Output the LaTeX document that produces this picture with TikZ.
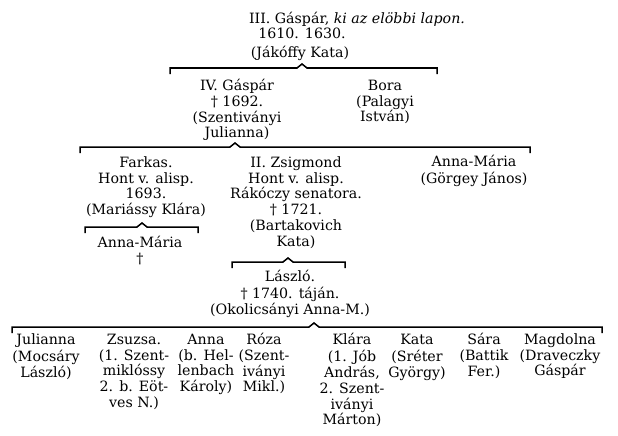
\documentclass[tikz,border=0pt]{standalone}
\usepackage{fontspec}
\setmainfont{DejaVu Serif}
\tikzset{
  gen/.style={font=\fontsize{14.2}{15.8}\selectfont, align=center, inner sep=0pt, anchor=north},
  genline/.style={font=\fontsize{14.2}{15.8}\selectfont, inner sep=0pt, anchor=base},
  bracket/.style={line width=1.5pt, line join=miter, line cap=butt},
}
% family bracket: name, y, left x, peak x, right x
\newcommand{\fambracket}[5]{%
  \coordinate (#1l) at (#3,#2);
  \coordinate (#1p) at (#4,#2);
  \coordinate (#1r) at (#5,#2);
  \draw[bracket] ([yshift=-6pt]#1l) -- (#1l) -- ([xshift=-5pt]#1p) -- ([yshift=4pt]#1p)
     -- ([xshift=5pt]#1p) -- (#1r) -- ([yshift=-6pt]#1r);
}
\begin{document}
\begin{tikzpicture}[x=1pt,y=-1pt]
\useasboundingbox[fill=white] (0,0) rectangle (618,436);

% generation III
\node[genline] (top1) at (357,24) {III. Gáspár, \textit{ki az elöbbi lapon.}};
\node[genline] (top2) at (302,39) {1610. 1630.};
\node[genline] (top3) at (300,57) {(Jákóffy Kata)};
\fambracket{b1}{68}{170}{302}{437}

% generation IV
\node[gen] (gaspar) at (237,79) {\strut IV. Gáspár\\† 1692.\\(Szentiványi\\Julianna)};
\node[gen] (bora) at (385,79) {\strut Bora\\(Palagyi\\István)};
\fambracket{b2}{147}{80}{235}{530}

% generation V
\node[gen] (farkas) at (146,156) {\strut Farkas.\\Hont v. alisp.\\1693.\\(Mariássy Klára)};
\node[gen] (zsig) at (296,156) {\strut II. Zsigmond\\Hont v. alisp.\\Rákóczy senatora.\\† 1721.\\(Bartakovich\\Kata)};
\node[gen] (annamg) at (474,155) {\strut Anna-Mária\\(Görgey János)};

\fambracket{b3}{227}{85}{142}{198}
\node[gen] (annamf) at (140,236) {\strut Anna-Mária\\†};

\fambracket{b4}{262}{232}{288}{345}
\node[gen] (laszlo) at (290,270) {\strut László.\\† 1740. táján.\\(Okolicsányi Anna-M.)};

\fambracket{b5}{327}{12}{314}{602}

% children
\node[gen] (jul) at (46,333) {\strut Julianna\\(Mocsáry\\László)};
\node[gen] (zsu) at (134,333) {\strut Zsuzsa.\\(1. Szent-\\miklóssy\\2. b. Eöt-\\ves N.)};
\node[gen] (anna) at (206,333) {\strut Anna\\(b. Hel-\\lenbach\\Károly)};
\node[gen] (roza) at (264,333) {\strut Róza\\(Szent-\\iványi\\Mikl.)};
\node[gen] (klara) at (352,333) {\strut Klára\\(1. Jób\\András,\\2. Szent-\\iványi\\Márton)};
\node[gen] (kata) at (417,333) {\strut Kata\\(Sréter\\György)};
\node[gen] (sara) at (484,333) {\strut Sára\\(Battik\\Fer.)};
\node[gen] (magd) at (560,333) {\strut Magdolna\\(Draveczky\\Gáspár};
\end{tikzpicture}
\end{document}
